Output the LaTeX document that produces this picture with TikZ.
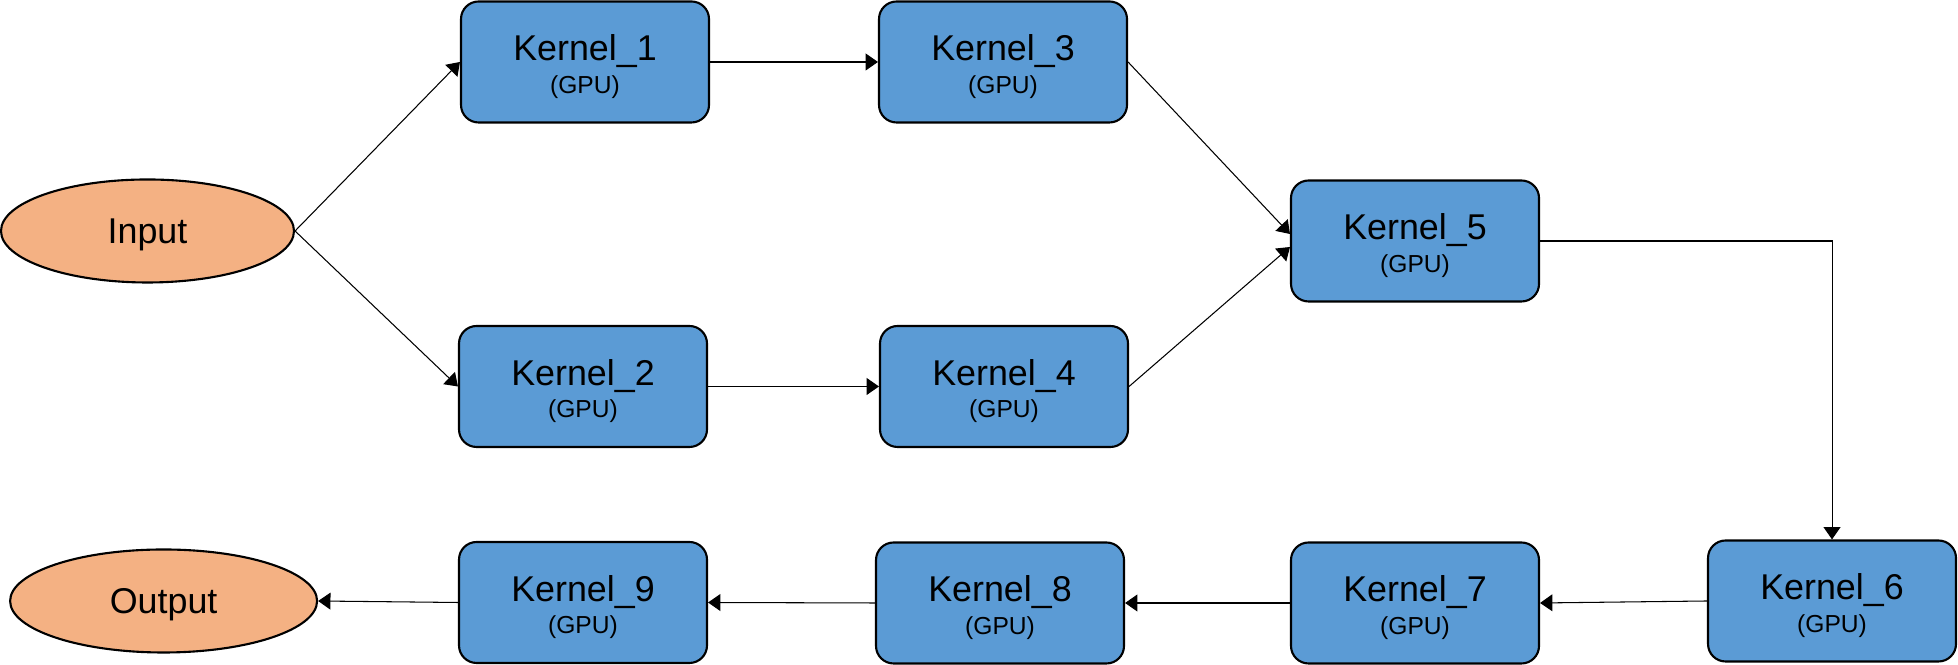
\documentclass[tikz,border=0pt]{standalone}
\usepackage{fontspec}
\setmainfont{Liberation Sans}
\usetikzlibrary{arrows.meta,shapes.geometric}
\definecolor{kernelblue}{HTML}{5B9BD5}
\definecolor{ioorange}{HTML}{F4B183}

\begin{document}
\begin{tikzpicture}[
    kernel/.style={draw,line width=0.6pt,rounded corners=5pt,fill=kernelblue,
      minimum width=2.48cm,minimum height=1.21cm,align=center,inner sep=0pt,
      font=\fontsize{10.2}{9.2}\selectfont},
    io/.style={draw,ellipse,line width=0.6pt,fill=ioorange,inner sep=0pt,
      text depth=0pt,font=\fontsize{10.2}{12}\selectfont},
    flow/.style={-{Triangle[length=3.5pt,width=4.8pt]},line width=0.3pt}]
  \useasboundingbox (0,0) rectangle (19.58,6.65);
  \newcommand{\kname}[1]{\rule{0pt}{10pt}Kernel\_#1\\{\fontsize{7}{8}\selectfont (GPU)}}
  % input and output
  \node[io,minimum width=2.93cm,minimum height=1.03cm] (in) at (1.475,4.34) {Input};
  \node[io,minimum width=3.07cm,minimum height=1.03cm] (out) at (1.636,0.64) {Output};
  % kernels
  \node[kernel] (k1) at (5.85,6.03) {\kname{1}};
  \node[kernel] (k3) at (10.03,6.03) {\kname{3}};
  \node[kernel] (k2) at (5.83,2.785) {\kname{2}};
  \node[kernel] (k4) at (10.04,2.785) {\kname{4}};
  \node[kernel] (k5) at (14.15,4.24) {\kname{5}};
  \node[kernel] (k6) at (18.32,0.64) {\kname{6}};
  \node[kernel] (k7) at (14.15,0.62) {\kname{7}};
  \node[kernel] (k8) at (10.00,0.62) {\kname{8}};
  \node[kernel] (k9) at (5.83,0.625) {\kname{9}};
  % connections
  \draw[flow] (in.east) -- (k1.west);
  \draw[flow] (in.east) -- (k2.west);
  \draw[flow] (k1.east) -- (k3.west);
  \draw[flow] (k2.east) -- (k4.west);
  \draw[flow] (k3.east) -- ([yshift=0.07cm]k5.west);
  \draw[flow] (k4.east) -- ([yshift=-0.06cm]k5.west);
  \draw[flow] (k5.east) -| (k6.north);
  \draw[flow] (k6.west) -- (k7.east);
  \draw[flow] (k7.west) -- (k8.east);
  \draw[flow] (k8.west) -- (k9.east);
  \draw[flow] (k9.west) -- (out.east);
\end{tikzpicture}
\end{document}
